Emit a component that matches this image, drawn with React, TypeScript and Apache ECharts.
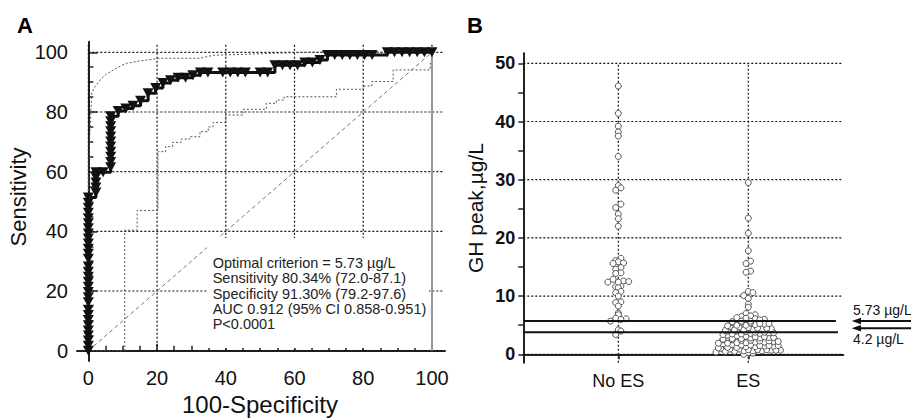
import React, { useEffect, useRef } from 'react';
import * as echarts from 'echarts';

// ---------- Panel A data (ROC) ----------
const rocFpr = [
  0, 0, 0, 0, 0, 0, 0, 0, 0, 0, 0, 0, 0, 0, 0, 0, 0, 0, 0, 0, 0, 0, 0, 0, 0, 0, 0, 0, 0, 0,
  2.2, 2.2, 2.2, 2.2, 2.2,
  4.3,
  6.5, 6.5, 6.5, 6.5, 6.5, 6.5, 6.5, 6.5, 6.5, 6.5, 6.5,
  8.7, 10.9, 13.0, 15.2, 17.4, 19.6, 21.7, 23.9, 26.1, 28.3, 30.4, 32.6, 34.8,
  39.1, 41.3, 43.5, 45.7,
  50.0, 52.2, 54.3, 56.5, 58.7, 60.9, 63.0, 65.2, 67.4, 69.6, 71.7, 73.9, 76.1, 78.3, 80.4, 82.6,
  87.0, 89.1, 91.3, 93.5, 95.7, 97.8, 100,
];
const rocTpr = [
  0, 1.7, 3.4, 5.1, 6.8, 8.5, 10.3, 12.0, 13.7, 16.2, 17.9, 19.7, 21.4, 23.1, 24.8, 26.5, 28.2, 30.8, 32.5, 34.2, 35.9, 37.6, 39.3, 41.0, 42.7, 44.4, 46.2, 47.9, 49.6, 51.3,
  53.0, 54.7, 56.4, 58.1, 59.8,
  59.8,
  61.5, 63.2, 65.0, 66.7, 68.4, 70.1, 71.8, 73.5, 75.2, 76.9, 78.6,
  80.3, 81.2, 82.1, 83.8, 86.3, 88.0, 89.7, 90.6, 91.5, 91.5, 92.3, 93.2, 93.2,
  93.2, 93.2, 93.2, 93.2,
  93.2, 93.2, 95.7, 95.7, 95.7, 95.7, 96.6, 96.6, 97.4, 99.1, 99.1, 99.1, 99.1, 99.1, 99.1, 99.1,
  100, 100, 100, 100, 100, 100, 100,
];
const upperCiFpr = [0, 0, 0.3, 1.0, 2.0, 3.4, 5.0, 7.3, 9.5, 11.1, 15.0, 18.9, 20.8, 32.5, 36.3, 45.0, 55.0, 65.0, 100];
const upperCiTpr = [0, 50, 69.5, 86.5, 88.5, 90.7, 92.5, 94.1, 95.5, 96.3, 97.1, 97.7, 98.0, 98.0, 99.0, 99.3, 99.7, 100, 100];
const lowerCiFpr = [0, 10.6, 14.2, 20.3, 22.5, 24.5, 27.0, 29.5, 32.5, 34.9, 36.3, 40.0, 45.0, 51.8, 54.7, 57.0, 72.2, 80.0, 82.5, 88.7, 99.5, 100];
const lowerCiTpr = [0, 40.4, 47.0, 66.7, 68.4, 69.8, 70.9, 71.7, 73.4, 75.0, 76.5, 79.0, 80.9, 82.9, 84.0, 85.1, 87.6, 88.7, 90.2, 94.1, 96.3, 100];
const rocTicksMajor = [0, 20, 40, 60, 80, 100];
const rocTicksMinor = [5, 10, 15, 25, 30, 35, 45, 50, 55, 65, 70, 75, 85, 90, 95];
const statsLines = [
  'Optimal criterion = 5.73 µg/L',
  'Sensitivity 80.34% (72.0-87.1)',
  'Specificity 91.30% (79.2-97.6)',
  'AUC 0.912 (95% CI 0.858-0.951)',
  'P<0.0001',
];

// ---------- Panel B data (dot plot) ----------
const groupNames = ['No ES', 'ES'];
const noEsValues = [
  46.1, 41.4, 39.2, 38.2, 37.5, 34.0, 29.0, 28.6, 28.2, 25.8,
  25.2, 24.1, 23.3, 22.0, 16.5, 16.1, 15.9, 15.7, 15.6, 14.9,
  14.6, 14.0, 13.9, 12.9, 12.6, 12.5, 12.4, 11.7, 11.6, 11.5,
  10.8, 10.6, 10.0, 9.0, 8.9, 8.3, 7.1, 6.8, 6.2, 6.1,
  6.0, 5.7, 4.2, 4.0, 3.4, 12.4,
];
const esValues = [
  29.5, 23.4, 20.8, 17.8, 16.0, 15.6, 14.3, 14.1, 10.8, 10.6, 10.1, 9.6, 8.6, 8.1, 7.0, 6.8, 6.6, 6.5, 6.3, 6.2, 6.1, 6.0, 5.9,
  0.0, 0.2, 0.3,
  0.4, 0.5, 0.5, 0.6, 0.6, 0.6, 0.7, 0.7, 0.7, 0.8, 0.8, 0.8, 0.9, 0.9, 1.0,
  1.1, 1.2, 1.2, 1.3, 1.3, 1.4, 1.4, 1.5, 1.5, 1.5, 1.6, 1.6, 1.7, 1.8,
  1.9, 1.9, 2.0, 2.0, 2.1, 2.1, 2.2, 2.2, 2.3, 2.3, 2.4, 2.4, 2.5, 2.5,
  2.6, 2.7, 2.7, 2.8, 2.8, 2.9, 2.9, 3.0, 3.0, 3.1, 3.2, 3.3,
  3.4, 3.5, 3.5, 3.6, 3.6, 3.7, 3.7, 3.8, 3.8, 3.9, 4.0, 4.0,
  4.1, 4.2, 4.2, 4.3, 4.4, 4.4, 4.5, 4.5, 4.6, 4.7, 4.8,
  4.9, 5.0, 5.0, 5.1, 5.2, 5.3, 5.3, 5.4, 5.5, 5.5, 5.6,
  5.7, 5.7,
];
const cutoffLines = [5.73, 3.8];
const cutoffLabels = ['5.73 µg/L', '4.2 µg/L'];
const gTicksMajor = [0, 10, 20, 30, 40, 50];
const gTicksAll = [0, 5, 10, 15, 20, 25, 30, 35, 40, 45, 50];

const FONT = 'Liberation Sans, Arial, sans-serif';

// axis ranges / layout
const A = { left: 77, top: 41.7, width: 368, height: 319.3, xMin: -3.3, xMax: 103.8, yMin: -3.45, yMax: 103.55 };
const B = { left: 523.3, top: 53.3, width: 320, height: 309.4, xMin: 0.269, xMax: 2.731, yMin: -1.44, yMax: 51.72 };

// dot-plot row layout: values are grouped in rows of binW units and spread side by side
function rowLayout(vals: number[], binW: number, base: number, dPx: number, kx: number): number[] {
  const bins = new Map<number, number[]>();
  vals.forEach((v, i) => {
    const k = Math.floor((v - base) / binW);
    if (!bins.has(k)) bins.set(k, []);
    bins.get(k)!.push(i);
  });
  const out: number[] = new Array(vals.length).fill(0);
  bins.forEach((ids) => {
    ids.sort((a, b) => vals[a] - vals[b]);
    const n = ids.length;
    const slots: number[] = [];
    for (let s = 0; s < n; s += 2) slots.push(s);
    for (let s = n % 2 === 0 ? n - 1 : n - 2; s >= 1; s -= 2) slots.push(s);
    ids.forEach((id, r) => {
      out[id] = ((slots[r] - (n - 1) / 2) * dPx) / kx;
    });
  });
  return out;
}

function buildOption() {
  const kx = B.width / (B.xMax - B.xMin);
  const offNo = rowLayout(noEsValues, 0.75, 0.325, 5.2, kx);
  const offEs = rowLayout(esValues, 0.75, 0.325, 4.6, kx);
  const dotData = [
    ...noEsValues.map((v, i) => [1 + offNo[i], v]),
    ...esValues.map((v, i) => [2 + offEs[i], v]),
  ];

  const gridStyle = { color: '#111', width: 1.2, type: [2, 2] as any, opacity: 1 };
  const gridSeries = (xi: number, pts: number[][]) => ({
    type: 'line', xAxisIndex: xi, yAxisIndex: xi, z: 1, silent: true, symbol: 'none',
    lineStyle: gridStyle, data: pts,
  });
  const gridA = [
    ...rocTicksMajor.map((v) => gridSeries(0, [[0, v], [103.2, v]])),
    ...rocTicksMajor.map((v) => gridSeries(0, [[v, 0], [v, 103.2]])),
  ];
  const gridB = [
    ...gTicksMajor.map((v) => gridSeries(2, [[B.xMin, v], [B.xMax, v]])),
    ...[1, 2].map((c) => gridSeries(2, [[c, B.yMin], [c, 50]])),
  ];

  const tickLabel = { fontFamily: FONT, color: '#111' };

  return {
    animation: false,
    grid: [
      { left: A.left, top: A.top, width: A.width, height: A.height },
      { left: B.left, top: B.top, width: B.width, height: B.height },
    ],
    xAxis: [
      {
        gridIndex: 0, type: 'value', min: A.xMin, max: A.xMax,
        axisLine: { lineStyle: { color: '#222', width: 2 } },
        axisTick: { inside: true, length: 7, customValues: rocTicksMajor, lineStyle: { color: '#222', width: 1.5 } },
        axisLabel: { customValues: rocTicksMajor, fontSize: 20, margin: 7, ...tickLabel },
        splitLine: { show: false },
      },
      {
        gridIndex: 0, type: 'value', min: A.xMin, max: A.xMax, position: 'bottom',
        axisLine: { show: false },
        axisTick: { inside: true, length: 5, customValues: rocTicksMinor, lineStyle: { color: '#222', width: 1.5 } },
        axisLabel: { show: false },
        splitLine: { show: false },
      },
      {
        gridIndex: 1, type: 'value', min: B.xMin, max: B.xMax,
        axisLine: { lineStyle: { color: '#222', width: 2 } },
        axisTick: { inside: false, length: 5, customValues: [1, 2], lineStyle: { color: '#222', width: 1.5 } },
        axisLabel: { customValues: [1, 2], fontSize: 18, margin: 9, formatter: (v: number) => groupNames[Math.round(v) - 1] ?? '', ...tickLabel },
        splitLine: { show: false },
      },
    ],
    yAxis: [
      {
        gridIndex: 0, type: 'value', min: A.yMin, max: A.yMax,
        axisLine: { lineStyle: { color: '#222', width: 2 } },
        axisTick: { inside: true, length: 9, customValues: rocTicksMajor, lineStyle: { color: '#222', width: 1.5 } },
        axisLabel: { customValues: rocTicksMajor, fontSize: 20, margin: 9, ...tickLabel },
        splitLine: { show: false },
      },
      {
        gridIndex: 0, type: 'value', min: A.yMin, max: A.yMax, position: 'left',
        axisLine: { show: false },
        axisTick: { inside: true, length: 5, customValues: rocTicksMinor, lineStyle: { color: '#222', width: 1.5 } },
        axisLabel: { show: false },
        splitLine: { show: false },
      },
      {
        gridIndex: 1, type: 'value', min: B.yMin, max: B.yMax,
        axisLine: { lineStyle: { color: '#222', width: 2 } },
        axisTick: { inside: false, length: 5, customValues: gTicksAll, lineStyle: { color: '#222', width: 1.5 } },
        axisLabel: { customValues: gTicksMajor, fontSize: 18, margin: 8, fontWeight: 'bold', ...tickLabel },
        splitLine: { show: false },
      },
    ],
    series: [
      ...gridA,
      { type: 'line', xAxisIndex: 0, yAxisIndex: 0, z: 2, symbol: 'none', lineStyle: { color: '#777', width: 1, type: [4, 3] }, data: [[0, 0], [100, 100]] },
      { type: 'line', xAxisIndex: 0, yAxisIndex: 0, z: 2, symbol: 'none', lineStyle: { color: '#555', width: 1, type: [2, 2] }, data: upperCiFpr.map((x, i) => [x, upperCiTpr[i]]) },
      { type: 'line', xAxisIndex: 0, yAxisIndex: 0, z: 2, symbol: 'none', step: 'end', lineStyle: { color: '#555', width: 1, type: [2, 2] }, data: lowerCiFpr.map((x, i) => [x, lowerCiTpr[i]]) },
      { type: 'line', xAxisIndex: 0, yAxisIndex: 0, z: 4, symbol: 'none', lineStyle: { color: '#999', width: 2 }, data: [[100, 0], [100, 100]] },
      {
        type: 'line', xAxisIndex: 0, yAxisIndex: 0, z: 6, step: 'end',
        symbol: 'triangle', symbolRotate: 180, symbolSize: [11, 10], showAllSymbol: true,
        itemStyle: { color: '#111' }, lineStyle: { color: '#111', width: 3 },
        data: rocFpr.map((x, i) => [x, rocTpr[i]]),
      },
      ...gridB,
      {
        type: 'scatter', xAxisIndex: 2, yAxisIndex: 2, z: 3, symbol: 'circle', symbolSize: 6,
        itemStyle: { color: '#fff', borderColor: '#555', borderWidth: 1, opacity: 1 },
        data: dotData,
      },
      ...cutoffLines.map((v, i) => ({
        type: 'line', xAxisIndex: 2, yAxisIndex: 2, z: 5, silent: true, symbol: 'none',
        lineStyle: { color: '#111', width: 2 },
        data: [[B.xMin, v], [i === 0 ? 2.674 : 2.69, v]],
      })),
    ],
    graphic: [
      { type: 'rect', z: 3, silent: true, shape: { x: 207, y: 238, width: 222, height: 110 }, style: { fill: '#fff' } },
      {
        type: 'text', z: 4, x: 212.7, y: 255.7, silent: true,
        style: { text: statsLines.join('\n'), font: `14.5px ${FONT}`, lineHeight: 15.2, fill: '#222', textVerticalAlign: 'top' },
      },
      { type: 'text', x: 17, y: 25, style: { text: 'A', font: `bold 22px ${FONT}`, fill: '#000', textVerticalAlign: 'middle' } },
      { type: 'text', x: 467, y: 25, style: { text: 'B', font: `bold 22px ${FONT}`, fill: '#000', textVerticalAlign: 'middle' } },
      { type: 'text', x: 18, y: 197, rotation: Math.PI / 2, style: { text: 'Sensitivity', font: `22px ${FONT}`, fill: '#111', textAlign: 'center', textVerticalAlign: 'middle' } },
      { type: 'text', x: 260, y: 404, style: { text: '100-Specificity', font: `24px ${FONT}`, fill: '#111', textAlign: 'center', textVerticalAlign: 'middle' } },
      { type: 'text', x: 475, y: 208, rotation: Math.PI / 2, style: { text: 'GH peak,µg/L', font: `21px ${FONT}`, fill: '#111', textAlign: 'center', textVerticalAlign: 'middle' } },
      { type: 'line', shape: { x1: 858, y1: 321, x2: 911, y2: 321 }, style: { stroke: '#111', lineWidth: 2 } },
      { type: 'polygon', shape: { points: [[851.7, 321], [861, 317.8], [861, 324.2]] }, style: { fill: '#111' } },
      { type: 'line', shape: { x1: 858, y1: 328.3, x2: 911, y2: 328.3 }, style: { stroke: '#111', lineWidth: 2 } },
      { type: 'polygon', shape: { points: [[851.7, 328.3], [861, 325.1], [861, 331.5]] }, style: { fill: '#111' } },
      { type: 'text', x: 853, y: 310, style: { text: cutoffLabels[0], font: `14px ${FONT}`, fill: '#111', textVerticalAlign: 'middle' } },
      { type: 'text', x: 853, y: 339, style: { text: cutoffLabels[1], font: `14px ${FONT}`, fill: '#111', textVerticalAlign: 'middle' } },
    ],
  };
}

export default function App() {
  const ref = useRef<HTMLDivElement>(null);
  useEffect(() => {
    document.body.style.margin = '0';
    const chart = echarts.init(ref.current!, null, { renderer: 'svg' });
    chart.setOption(buildOption() as any);
    return () => chart.dispose();
  }, []);
  return <div ref={ref} style={{ width: 911, height: 420, position: 'absolute', left: 0, top: 0, background: '#fff' }} />;
}
